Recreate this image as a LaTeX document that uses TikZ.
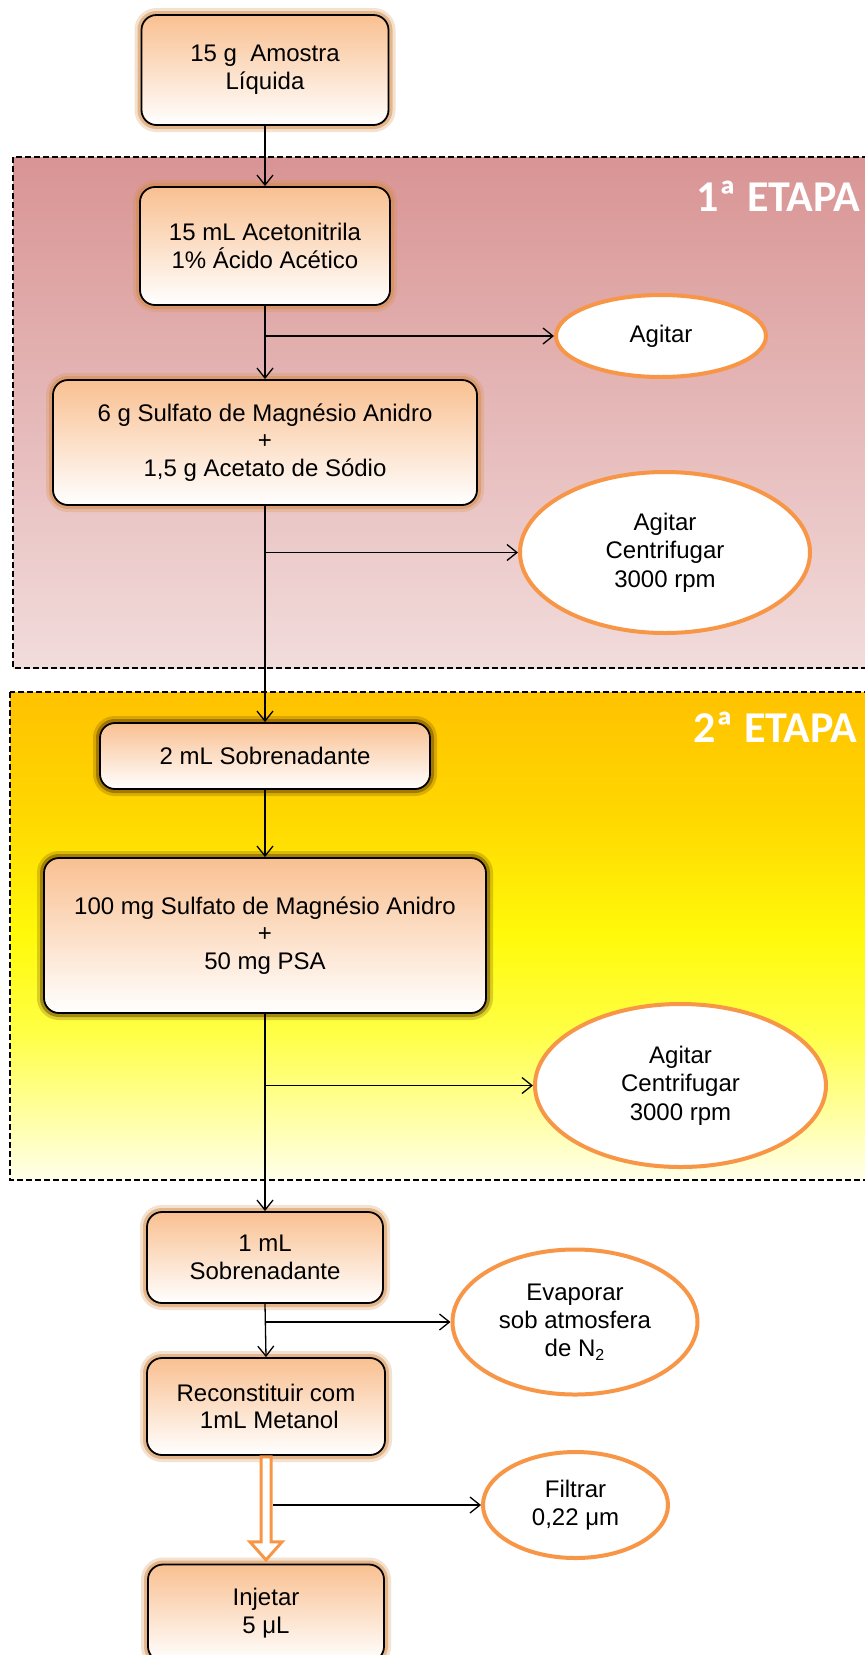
\documentclass[tikz,border=0pt]{standalone}
\usepackage{fontspec}
\setmainfont{Liberation Sans}
\newfontfamily\etapafont{Carlito}
\usetikzlibrary{shapes.geometric,arrows.meta,calc}

\definecolor{caixatopo}{RGB}{249,192,145}
\definecolor{bordaelipse}{RGB}{247,150,70}
\definecolor{brilho}{RGB}{215,140,70}
\definecolor{brilhoescuro}{RGB}{110,70,0}
\definecolor{rosatopo}{RGB}{217,148,148}
\definecolor{rosabase}{RGB}{242,220,220}
\definecolor{ourotopo}{RGB}{255,194,0}
\definecolor{ouromeio}{RGB}{255,215,0}
\definecolor{amarelo}{RGB}{255,250,10}
\definecolor{amareloclaro}{RGB}{255,255,70}
\definecolor{cremebase}{RGB}{255,255,235}

\pgfdeclareverticalshading{etapados}{100bp}{color(0bp)=(cremebase); color(25bp)=(cremebase); color(40bp)=(amareloclaro); color(50bp)=(amarelo); color(62.5bp)=(ouromeio); color(75bp)=(ourotopo); color(100bp)=(ourotopo)}

\begin{document}
\begin{tikzpicture}[x=0.5pt, y=-0.5pt, >={Straight Barb[length=5pt,width=8pt]},
  caixa/.style={rectangle, rounded corners=7.5pt, draw=black, line width=0.9pt,
    top color=caixatopo, bottom color=white, align=center, inner sep=2pt,
    font=\fontsize{12}{13.8}\selectfont,
    preaction={draw=#1, line width=7pt, opacity=.25},
    preaction={draw=#1, line width=4pt, opacity=.5}},
  caixa/.default=brilho,
  elipse/.style={ellipse, draw=bordaelipse, line width=2pt, fill=white, align=center,
    inner sep=0pt, font=\fontsize{12}{14.2}\selectfont},
  seta/.style={->, line width=0.65pt},
  setagrossa/.style={draw=bordaelipse, fill=white, line width=1.5pt, line join=miter},
  etapa/.style={draw=black, line width=0.8pt, dash pattern=on 3pt off 1.5pt},
  rotulo/.style={anchor=east, text=white, inner sep=0pt,
    font=\etapafont\bfseries\fontsize{22}{22}\selectfont}]

  \useasboundingbox (0,0) rectangle (865,1655);
  \fill[white] (0,0) rectangle (865,1655);

  % etapas
  \shadedraw[etapa, top color=rosatopo, bottom color=rosabase] (13,157) rectangle (870,668);
  \shadedraw[etapa, shading=etapados] (10,692) rectangle (870,1180);
  \node[rotulo] (etapaum) at (861,196) {1ª ETAPA};
  \node[rotulo] (etapadois) at (858,727) {2ª ETAPA};

  % caixas
  \node[caixa, minimum width=123.5pt, minimum height=55pt] (amostra) at (265,70) {15 g~ Amostra\\Líquida};
  \node[caixa, minimum width=125pt, minimum height=59pt] (aceto) at (265,246) {15 mL Acetonitrila\\1\% Ácido Acético};
  \node[caixa, minimum width=212pt, minimum height=62.5pt] (sulfato) at (265,442.5) {6 g Sulfato de Magnésio Anidro\\+\\1,5 g Acetato de Sódio};
  \node[caixa=brilhoescuro, minimum width=165pt, minimum height=33pt] (sobrenadA) at (265,756) {2 mL Sobrenadante};
  \node[caixa=brilhoescuro, minimum width=221pt, minimum height=77.5pt] (sulfpsa) at (265,935.5) {100 mg Sulfato de Magnésio Anidro\\+\\50 mg PSA};
  \node[caixa, minimum width=118pt, minimum height=45.5pt] (sobrenadB) at (265,1257.5) {1 mL\\Sobrenadante};
  \node[caixa, minimum width=119pt, minimum height=48.5pt] (reconst) at (266,1406.5) {Reconstituir com\\~1mL Metanol};
  \node[caixa, minimum width=118pt, minimum height=48.5pt] (injetar) at (266,1613) {Injetar\\5 μL};

  % elipses
  \node[elipse, minimum width=105pt, minimum height=41pt] (agitarA) at (661,336) {Agitar};
  \node[elipse, minimum width=145pt, minimum height=80.5pt] (agitarB) at (665,552.5) {Agitar\\Centrifugar\\3000 rpm};
  \node[elipse, minimum width=145.5pt, minimum height=81.5pt] (agitarC) at (680.5,1085.5) {Agitar\\Centrifugar\\3000 rpm};
  \node[elipse, minimum width=122.5pt, minimum height=72.5pt] (evaporar) at (575,1322) {Evaporar\\sob atmosfera\\de N\textsubscript{2}};
  \node[elipse, minimum width=92.5pt, minimum height=53pt] (filtrar) at (575.5,1505) {Filtrar\\0,22 μm};

  % fluxo principal
  \draw[seta] (amostra.south) -- (aceto.north);
  \draw[seta] (aceto.south) -- (sulfato.north);
  \draw[seta] (sulfato.south) -- (sobrenadA.north);
  \draw[seta] (sobrenadA.south) -- (sulfpsa.north);
  \draw[seta] (sulfpsa.south) -- (sobrenadB.north);
  \draw[seta] (sobrenadB.south) -- (reconst.north);

  % ramos laterais
  \draw[seta] (aceto |- agitarA.west) -- (agitarA.west);
  \draw[seta] (sulfato |- agitarB.west) -- (agitarB.west);
  \draw[seta] (sulfpsa |- agitarC.west) -- (agitarC.west);
  \draw[seta] (sobrenadB |- evaporar.west) -- (evaporar.west);

  \draw[setagrossa, shift={(reconst.south)}] (-5,1) -- (-5,86) -- (-16,86) -- (0,104) -- (16,86) -- (5,86) -- (5,1) -- cycle;
  \coordinate (lateral) at ($(reconst.south)+(7,0)$);
  \draw[seta] (lateral |- filtrar.west) -- (filtrar.west);
\end{tikzpicture}
\end{document}
